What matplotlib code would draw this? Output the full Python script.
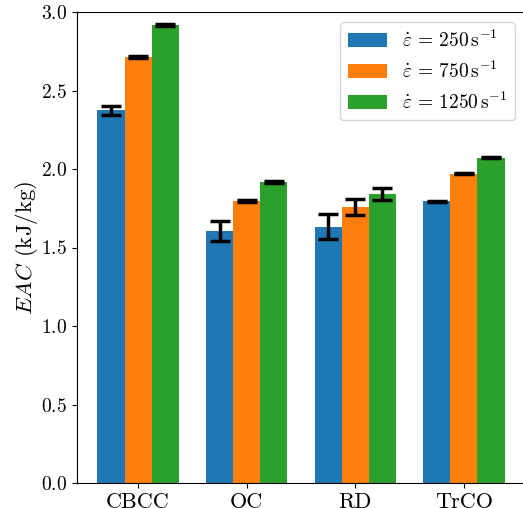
import numpy as np
import matplotlib
matplotlib.use("Agg")
import matplotlib.pyplot as plt

plt.rcParams['font.family'] = 'serif'
plt.rcParams['font.serif'] = ['cmr10']
plt.rcParams['mathtext.fontset'] = 'cm'
plt.rcParams['axes.formatter.use_mathtext'] = True

# data
categories = ['CBCC', 'OC', 'RD', 'TrCO']
labels = [r'$\dot{\varepsilon}\,=\,250\,\mathrm{s}^{-1}$',
          r'$\dot{\varepsilon}\,=\,750\,\mathrm{s}^{-1}$',
          r'$\dot{\varepsilon}\,=\,1250\,\mathrm{s}^{-1}$']
eac_250 = [2.375, 1.605, 1.631, 1.793]
eac_750 = [2.715, 1.795, 1.758, 1.970]
eac_1250 = [2.918, 1.918, 1.840, 2.073]
err_250 = [0.028, 0.065, 0.080, 0.005]
err_750 = [0.005, 0.005, 0.048, 0.005]
err_1250 = [0.005, 0.004, 0.040, 0.004]

fig = plt.figure(figsize=(5.23, 5.08), dpi=100)
ax = fig.add_axes([77/523, 25/508, 448/523, 471/508])

x = np.arange(len(categories))
w = 0.25
ekw = dict(elinewidth=2.5, capthick=2.5, capsize=7, ecolor='black')
for i, (vals, errs) in enumerate([(eac_250, err_250), (eac_750, err_750), (eac_1250, err_1250)]):
    ax.bar(x + (i - 1) * w, vals, w, yerr=errs, label=labels[i], error_kw=ekw)

ax.set_xticks(x)
ax.set_xticklabels(categories, fontsize=16)
ax.set_ylim(0, 3.0)
ax.set_yticks(np.arange(0, 3.01, 0.5))
ax.tick_params(axis='y', labelsize=14)
ax.set_ylabel(r'$EAC$ (kJ/kg)', fontsize=16.5, labelpad=1)
ax.legend(loc='upper right', fontsize=14)

fig.savefig('out.png', dpi=100)
